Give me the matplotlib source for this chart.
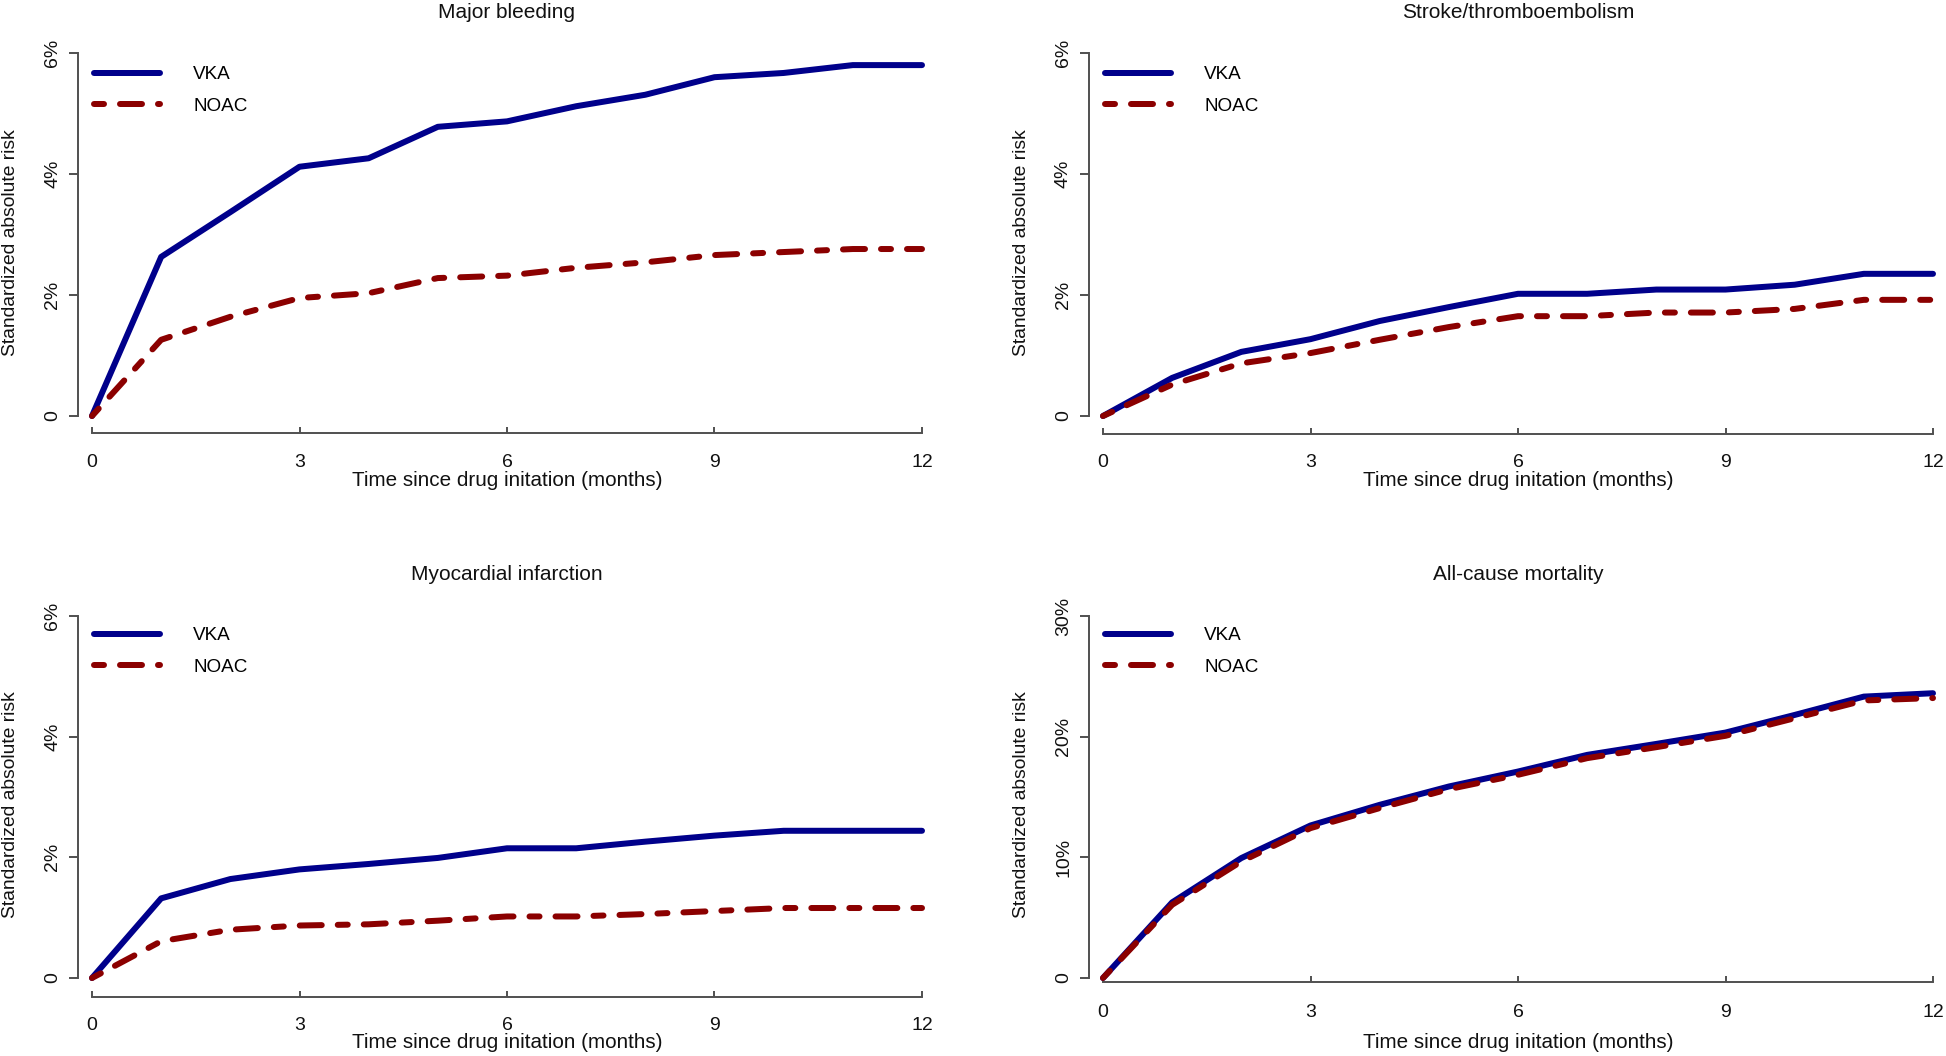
import matplotlib
matplotlib.use('Agg')
import matplotlib.pyplot as plt

plt.rcParams['font.family'] = ['Liberation Sans', 'DejaVu Sans']
plt.rcParams['lines.scale_dashes'] = False

# ---------------- data (percent) ----------------
months = [0, 1, 2, 3, 4, 5, 6, 7, 8, 9, 10, 11, 12]
xticks = [0, 3, 6, 9, 12]

bleed_vka = [0, 2.63, 3.37, 4.12, 4.26, 4.78, 4.87, 5.12, 5.31, 5.60, 5.67, 5.80, 5.80]
bleed_noac = [0, 1.26, 1.64, 1.95, 2.03, 2.28, 2.32, 2.45, 2.54, 2.66, 2.71, 2.76, 2.76]
stroke_vka = [0, 0.63, 1.06, 1.27, 1.57, 1.80, 2.02, 2.02, 2.09, 2.09, 2.17, 2.35, 2.35]
stroke_noac = [0, 0.52, 0.87, 1.04, 1.26, 1.47, 1.65, 1.65, 1.71, 1.71, 1.77, 1.92, 1.92]
mi_vka = [0, 1.32, 1.64, 1.80, 1.89, 1.99, 2.15, 2.15, 2.26, 2.36, 2.44, 2.44, 2.44]
mi_noac = [0, 0.61, 0.80, 0.87, 0.89, 0.95, 1.02, 1.02, 1.06, 1.11, 1.16, 1.16, 1.16]
mort_vka = [0, 6.27, 9.94, 12.64, 14.35, 15.87, 17.11, 18.49, 19.40, 20.34, 21.80, 23.32, 23.60]
mort_noac = [0, 6.07, 9.66, 12.42, 14.08, 15.65, 16.84, 18.22, 19.13, 20.07, 21.53, 23.00, 23.20]

titles = ["Major bleeding", "Stroke/thromboembolism", "Myocardial infarction", "All-cause mortality"]
small_yticks = [0, 2, 4, 6]
small_yticklabels = ["0", "2%", "4%", "6%"]
mort_yticks = [0, 10, 20, 30]
mort_yticklabels = ["0", "10%", "20%", "30%"]
series_labels = ["VKA", "NOAC"]
xlabel = "Time since drug initation (months)"
ylabel = "Standardized absolute risk"

# ---------------- layout (pixels) ----------------
W, H, DPI = 1946, 1056, 100
PT = 72.0 / DPI
VKA_COL = '#00008B'
NOAC_COL = '#8B0000'
AXCOL = '#505050'
TXTCOL = '#111111'

panels = [
    dict(vka=bleed_vka, noac=bleed_noac, yt=small_yticks, ytl=small_yticklabels, ymax=6,
         x0=92, x1=922, y0=416, y1=53, ysp=78, xsp=433, xtl=461, xlab=481, ty=12, ylx=11, yly=243, leg=(94, 66)),
    dict(vka=stroke_vka, noac=stroke_noac, yt=small_yticks, ytl=small_yticklabels, ymax=6,
         x0=1103, x1=1933, y0=416, y1=53, ysp=1089, xsp=434, xtl=461, xlab=481, ty=12, ylx=1022, yly=243, leg=(1105, 66)),
    dict(vka=mi_vka, noac=mi_noac, yt=small_yticks, ytl=small_yticklabels, ymax=6,
         x0=92, x1=922, y0=978, y1=616, ysp=78, xsp=997, xtl=1024, xlab=1043, ty=574, ylx=11, yly=805, leg=(94, 627)),
    dict(vka=mort_vka, noac=mort_noac, yt=mort_yticks, ytl=mort_yticklabels, ymax=30,
         x0=1103, x1=1933, y0=978, y1=616, ysp=1089, xsp=982, xtl=1011, xlab=1043, ty=574, ylx=1022, yly=805, leg=(1105, 627)),
]

fig = plt.figure(figsize=(W / DPI, H / DPI), dpi=DPI)
fig.patch.set_facecolor('white')

LW = 6 * PT
dash = (0, (10 * PT, 16 * PT, 22 * PT, 16 * PT))
LEGFS = 13.6

for title, p in zip(titles, panels):
    wpx = p['x1'] - p['x0']
    hpx = p['y0'] - p['y1']
    ax = fig.add_axes([p['x0'] / W, 1 - p['y0'] / H, wpx / W, hpx / H])
    ax.set_xlim(0, 12)
    ax.set_ylim(0, p['ymax'])
    ax.patch.set_visible(False)

    l1, = ax.plot(months, p['vka'], color=VKA_COL, lw=LW, solid_capstyle='round',
                  solid_joinstyle='round', clip_on=False, zorder=3)
    l2, = ax.plot(months, p['noac'], color=NOAC_COL, lw=LW, linestyle=dash,
                  dash_capstyle='round', dash_joinstyle='round', clip_on=False, zorder=4)

    for s in ('top', 'right'):
        ax.spines[s].set_visible(False)
    ax.spines['left'].set_position(('outward', (p['x0'] - p['ysp']) * PT))
    ax.spines['bottom'].set_position(('outward', (p['xsp'] - p['y0']) * PT))
    ax.spines['left'].set_bounds(0, p['ymax'])
    ax.spines['bottom'].set_bounds(0, 12)
    for s in ('left', 'bottom'):
        ax.spines[s].set_color(AXCOL)
        ax.spines[s].set_linewidth(1.4)

    ax.set_xticks(xticks)
    ax.set_xticklabels([str(v) for v in xticks])
    ax.set_yticks(p['yt'])
    ax.set_yticklabels(p['ytl'])
    ax.tick_params(axis='x', direction='in', length=6 * PT, width=1.4, color=AXCOL,
                   labelsize=14, labelcolor=TXTCOL, pad=(p['xtl'] - p['xsp'] - 7) * PT)
    ax.tick_params(axis='y', direction='out', length=9 * PT, width=1.4, color=AXCOL,
                   labelsize=14, labelcolor=TXTCOL, pad=8 * PT, labelrotation=90)
    for lab in ax.get_yticklabels():
        lab.set_verticalalignment('center')

    ax.set_xlabel(xlabel, fontsize=14.9, color=TXTCOL, va='center')
    ax.xaxis.set_label_coords(0.5, (p['y0'] - p['xlab']) / hpx)
    ax.set_ylabel(ylabel, fontsize=13.9, color=TXTCOL, va='center')
    ax.yaxis.set_label_coords((p['ylx'] - p['x0']) / wpx, (p['y0'] - p['yly']) / hpx)

    ax.text(0.5, (p['y0'] - p['ty']) / hpx, title, transform=ax.transAxes,
            ha='center', va='center', fontsize=15, color=TXTCOL)

    lx, ly = p['leg']
    ax.legend([l1, l2], series_labels, loc='upper left',
              bbox_to_anchor=((lx - p['x0']) / wpx, (p['y0'] - ly) / hpx),
              bbox_transform=ax.transAxes, frameon=False, borderpad=0, borderaxespad=0,
              fontsize=LEGFS, handlelength=47.5 / LEGFS, handletextpad=24.0 / LEGFS,
              labelspacing=0.75)

fig.savefig('out.png', dpi=DPI, facecolor='white')
